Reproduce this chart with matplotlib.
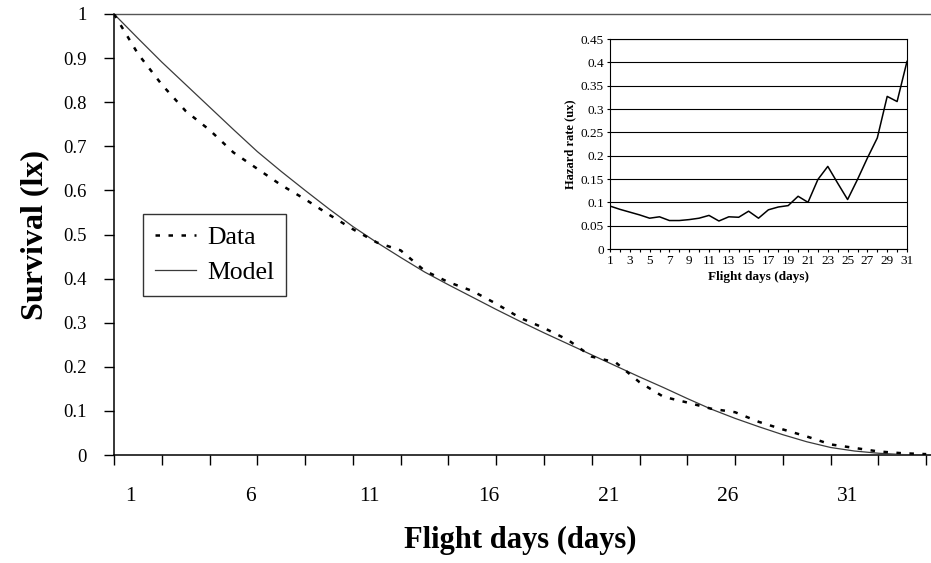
import numpy as np
import matplotlib
matplotlib.use("Agg")
import matplotlib.pyplot as plt

plt.rcParams['font.family'] = ['Liberation Serif', 'DejaVu Serif']

# ---- data: main survival chart (x = day index from start, 0..34) ----
days = list(range(0, 35))
survival_data = [1.000, 0.910, 0.840, 0.780, 0.737, 0.686, 0.649, 0.612, 0.580, 0.545,
                 0.512, 0.482, 0.464, 0.418, 0.392, 0.372, 0.343, 0.311, 0.288, 0.261,
                 0.223, 0.210, 0.165, 0.132, 0.119, 0.105, 0.097, 0.075, 0.058, 0.042,
                 0.024, 0.016, 0.008, 0.004, 0.002]
survival_model = [1.000, 0.945, 0.891, 0.840, 0.789, 0.738, 0.688, 0.643, 0.600, 0.558,
                  0.518, 0.482, 0.448, 0.415, 0.386, 0.358, 0.330, 0.303, 0.277, 0.252,
                  0.227, 0.202, 0.177, 0.153, 0.128, 0.104, 0.083, 0.064, 0.046, 0.030,
                  0.017, 0.009, 0.004, 0.001, 0.000]
x_tick_labels = [1, 6, 11, 16, 21, 26, 31]
y_ticks = [0, 0.1, 0.2, 0.3, 0.4, 0.5, 0.6, 0.7, 0.8, 0.9, 1.0]
y_tick_labels = ['0', '0.1', '0.2', '0.3', '0.4', '0.5', '0.6', '0.7', '0.8', '0.9', '1']

# ---- data: inset hazard chart ----
hazard_days = list(range(1, 32))
hazard_rate = [0.092, 0.085, 0.079, 0.073, 0.066, 0.069, 0.061, 0.061, 0.063, 0.066,
               0.072, 0.060, 0.069, 0.068, 0.081, 0.066, 0.084, 0.090, 0.093, 0.113,
               0.100, 0.149, 0.177, 0.141, 0.106, 0.149, 0.195, 0.238, 0.327, 0.316,
               0.402]
hazard_yticks = [0, 0.05, 0.1, 0.15, 0.2, 0.25, 0.3, 0.35, 0.4, 0.45]
hazard_ytick_labels = ['0', '0.05', '0.1', '0.15', '0.2', '0.25', '0.3', '0.35', '0.4', '0.45']

W, H = 931, 563
fig = plt.figure(figsize=(W / 100, H / 100), dpi=100)

# main axes
ax = fig.add_axes([114 / W, 1 - 455 / H, (W - 114) / W, 441 / H])
ax.plot(days, survival_model, color='#3a3a3a', lw=0.9, label='Model', zorder=3)
ax.plot(days, survival_data, color='black', lw=1.8, dashes=(1.8, 3.4), label='Data', zorder=4)
ax.set_xlim(0, 34.2)
ax.set_ylim(0, 1)

ax.spines['right'].set_visible(False)
ax.spines['top'].set_color('#555555')
ax.spines['top'].set_linewidth(1.0)
ax.spines['left'].set_linewidth(1.1)
ax.spines['bottom'].set_linewidth(1.1)

# x: tick marks every 2 days, labels every 5 days placed between ticks
ax.set_xticks(list(range(0, 35, 2)), minor=True)
ax.set_xticks([v - 0.3 for v in x_tick_labels])
ax.set_xticklabels([str(v) for v in x_tick_labels], fontsize=15.5)
ax.tick_params(axis='x', which='major', length=0, pad=23)
ax.tick_params(axis='x', which='minor', length=7.5, width=1, direction='out')

ax.set_yticks(y_ticks)
ax.set_yticklabels(y_tick_labels, fontsize=13.5)
ax.tick_params(axis='y', length=7.5, width=1, direction='out', pad=12)

# legend
h_model, h_data = ax.get_lines()
leg = ax.legend([h_data, h_model], ['Data', 'Model'], loc='upper left',
                bbox_to_anchor=((143 - 114) / (W - 114), (455 - 214) / 441),
                borderaxespad=0, fontsize=18.5, frameon=True, fancybox=False,
                edgecolor='black', handlelength=1.6, handletextpad=0.45,
                labelspacing=0.5, borderpad=0.45)
leg.get_frame().set_linewidth(1.0)

fig.text(35 / W, 1 - 235 / H, 'Survival (lx)', rotation=90, ha='center', va='center',
         fontsize=23, fontweight='bold')
fig.text(520 / W, 1 - 540 / H, 'Flight days (days)', ha='center', va='center',
         fontsize=22, fontweight='bold')

# inset
ax2 = fig.add_axes([610 / W, 1 - 249 / H, 297 / W, 210 / H])
ax2.plot(hazard_days, hazard_rate, color='black', lw=1.1, zorder=3)
ax2.set_xlim(1, 31)
ax2.set_ylim(0, 0.45)
ax2.set_yticks(hazard_yticks)
ax2.set_yticklabels(hazard_ytick_labels, fontsize=9.5)
ax2.set_xticks(hazard_days)
ax2.set_xticklabels([str(d) if d % 2 == 1 else '' for d in hazard_days], fontsize=9.5)
ax2.tick_params(axis='both', length=2.5, width=0.8, direction='out', pad=2)
ax2.grid(axis='y', color='black', lw=0.8)
ax2.set_axisbelow(True)
for s in ax2.spines.values():
    s.set_linewidth(0.8)
ax2.set_ylabel('Hazard rate (ux)', fontsize=9, fontweight='bold', labelpad=3)
ax2.set_xlabel('Flight days (days)', fontsize=9.5, fontweight='bold', labelpad=3)

fig.savefig('out.png', dpi=100)
